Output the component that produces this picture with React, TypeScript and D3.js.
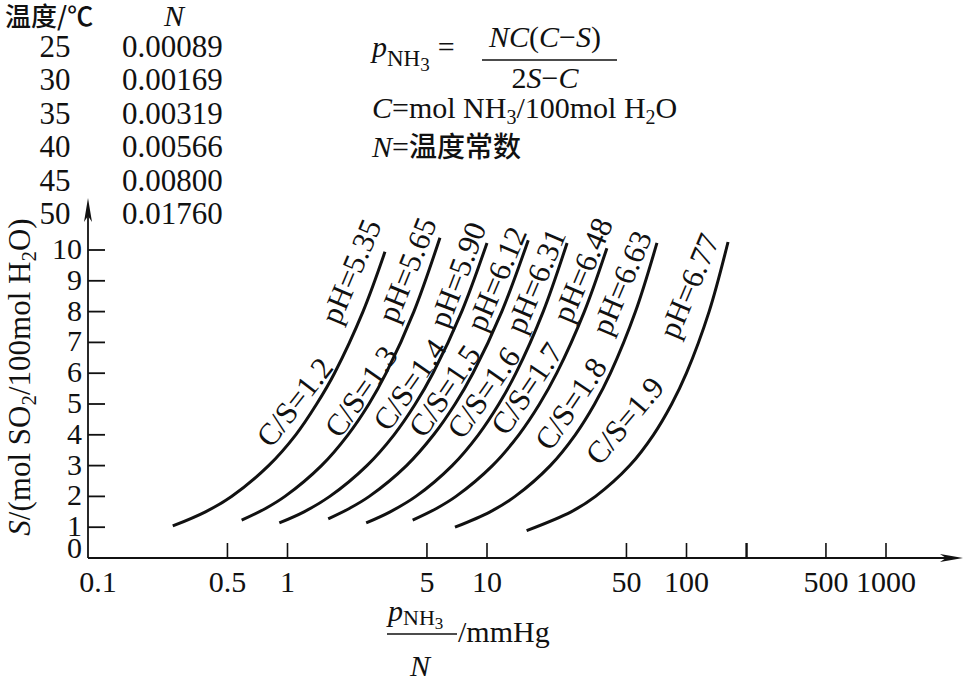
import React from 'react';
import * as d3 from 'd3';

// C/S ratio of each curve and the pH written on it
const csRatios = ['1.2', '1.3', '1.4', '1.5', '1.6', '1.7', '1.8', '1.9'];
const phValues = ['5.35', '5.65', '5.90', '6.12', '6.31', '6.48', '6.63', '6.77'];

// points: [pNH3/N (mmHg), S]
const curveCS12 = [[0.266, 1.04], [0.388, 1.5], [0.524, 2], [0.804, 3], [1.1, 4], [1.4, 5], [1.72, 6], [2.39, 8], [3.08, 9.94]];
const curveCS13 = [[0.589, 1.23], [0.772, 1.6], [0.971, 2], [1.48, 3], [2.01, 4], [2.56, 5], [3.12, 6], [4.3, 8], [5.81, 10.4]];
const curveCS14 = [[0.91, 1.14], [1.21, 1.5], [1.63, 2], [2.5, 3], [3.42, 4], [4.37, 5], [5.36, 6], [7.47, 8], [10, 10.23]];
const curveCS15 = [[1.6, 1.27], [2.03, 1.6], [2.57, 2], [3.95, 3], [5.4, 4], [6.92, 5], [8.5, 6], [11.86, 8], [16.1, 10.32]];
const curveCS16 = [[2.48, 1.14], [3.27, 1.5], [4.4, 2], [6.69, 3], [9.05, 4], [11.47, 5], [13.96, 6], [19.13, 8], [25.2, 10.23]];
const curveCS17 = [[4.24, 1.23], [5.55, 1.6], [6.99, 2], [10.65, 3], [14.44, 4], [18.34, 5], [22.36, 6], [30.76, 8], [39.9, 10.06]];
const curveCS18 = [[6.91, 1.0], [10.37, 1.5], [13.83, 2], [20.76, 3], [27.7, 4], [34.63, 5], [41.57, 6], [55.5, 8], [71.1, 10.23]];
const curveCS19 = [[15.8, 0.89], [26.4, 1.5], [35, 2], [51.9, 3], [68.3, 4], [84.3, 5], [99.9, 6], [129.8, 8], [161.5, 10.26]];
const curves = [curveCS12, curveCS13, curveCS14, curveCS15, curveCS16, curveCS17, curveCS18, curveCS19];

// temperature table
const tempLabels = ['25', '30', '35', '40', '45', '50'];
const nValues = ['0.00089', '0.00169', '0.00319', '0.00566', '0.00800', '0.01760'];

// axis ticks
const xTickValues = [0.5, 1, 5, 10, 50, 100, 200, 500, 1000];
const xTickLabels = ['0.5', '1', '5', '10', '50', '100', '', '500', '1000'];
const yTickValues = [1, 2, 3, 4, 5, 6, 7, 8, 9, 10];

// label placement (data coords + rotation), layout only
const csLabelSpots = [
    [1.09, 5.05, -52], [2.35, 5.4, -55], [4.11, 5.62, -55], [6.16, 5.42, -56],
    [9.66, 5.36, -55], [15.9, 5.49, -56], [26.4, 5.0, -56], [49.2, 4.45, -50],
];
const phLabelSpots = [
    [2.09, 9.3, -67], [4.0, 9.35, -68], [7.15, 9.19, -69], [11.2, 9.06, -67],
    [17.6, 8.99, -67], [30.3, 9.35, -67], [47.5, 8.93, -67], [103.5, 8.83, -67],
];

const W = 965;
const H = 686;
const serif = "Liberation Serif";
const cjk = "Noto Sans CJK SC";

const App = () => {
    const x = d3.scaleLog().domain([0.1, 1000]).range([88, 886]);
    const y = d3.scaleLinear().domain([0, 10]).range([558, 250]);
    const x0 = x(0.1);
    const y0 = y(0);

    const line = d3
        .line<number[]>()
        .x((d) => x(d[0]))
        .y((d) => y(d[1]))
        .curve(d3.curveCatmullRom.alpha(0.5));

    const fs = 30;

    return (
        <svg
            width={W}
            height={H}
            style={{ position: 'absolute', left: 0, top: 0, background: '#fff', fontFamily: serif }}
            fill="#111"
        >
            {/* temperature table */}
            <text x={5} y={26} fontSize={26} fontFamily={cjk} fontWeight={500}>
                温度/℃
            </text>
            <text x={174} y={26} fontSize={fs} fontStyle="italic" textAnchor="middle">
                N
            </text>
            {tempLabels.map((t, i) => (
                <g key={t}>
                    <text x={55} y={57 + i * 33.4} fontSize={31} textAnchor="middle">
                        {t}
                    </text>
                    <text x={122} y={57 + i * 33.4} fontSize={31}>
                        {nValues[i]}
                    </text>
                </g>
            ))}

            {/* formula block */}
            <text x={372} y={57} fontSize={fs}>
                <tspan fontStyle="italic">p</tspan>
                <tspan fontSize={23} dy={9}>NH</tspan>
                <tspan fontSize={19} dy={5}>3</tspan>
                <tspan dy={-14} dx={8}>=</tspan>
            </text>
            <text x={545} y={47} fontSize={fs} textAnchor="middle">
                <tspan fontStyle="italic">NC</tspan>(<tspan fontStyle="italic">C</tspan>−<tspan fontStyle="italic">S</tspan>)
            </text>
            <line x1={482} x2={617} y1={60} y2={60} stroke="#111" strokeWidth={1.6} />
            <text x={545} y={88} fontSize={fs} textAnchor="middle">
                2<tspan fontStyle="italic">S</tspan>−<tspan fontStyle="italic">C</tspan>
            </text>
            <text x={372} y={118} fontSize={fs}>
                <tspan fontStyle="italic">C</tspan>=mol NH<tspan fontSize={20} dy={6}>3</tspan><tspan dy={-6}>/100mol H</tspan><tspan fontSize={20} dy={6}>2</tspan><tspan dy={-6}>O</tspan>
            </text>
            <text x={372} y={157} fontSize={fs}>
                <tspan fontStyle="italic">N</tspan>=<tspan fontFamily={cjk} fontWeight={500} fontSize={28}>温度常数</tspan>
            </text>

            {/* axes */}
            <line x1={x0} x2={x0} y1={y0} y2={212} stroke="#111" strokeWidth={1.8} />
            <path d={`M${x0},198 L${x0 + 4},222 L${x0},216 L${x0 - 4},222 Z`} fill="#111" />
            <line x1={x0} x2={948} y1={y0} y2={y0} stroke="#111" strokeWidth={1.8} />
            <path d={`M963,${y0} L940,${y0 - 4} L946,${y0} L940,${y0 + 4} Z`} fill="#111" />

            {yTickValues.map((v) => (
                <g key={v}>
                    <line x1={x0} x2={x0 + 17} y1={y(v)} y2={y(v)} stroke="#111" strokeWidth={1.8} />
                    <text x={82} y={y(v) + 9} fontSize={fs} textAnchor="end">
                        {v}
                    </text>
                </g>
            ))}
            <text x={82} y={558} fontSize={fs} textAnchor="end">
                0
            </text>

            {xTickValues.map((v, i) => (
                <g key={v}>
                    <line x1={x(v)} x2={x(v)} y1={y0} y2={y0 - 15} stroke="#111" strokeWidth={v === 200 ? 2.4 : 1.6} />
                    <text x={x(v)} y={592} fontSize={fs} textAnchor="middle">
                        {xTickLabels[i]}
                    </text>
                </g>
            ))}
            <text x={x0 + 10} y={592} fontSize={fs} textAnchor="middle">
                0.1
            </text>

            {/* y axis title */}
            <text transform="translate(30,377) rotate(-90)" fontSize={31} textAnchor="middle">
                <tspan fontStyle="italic">S</tspan>/(mol SO<tspan fontSize={21} dy={6}>2</tspan><tspan dy={-6}>/100mol H</tspan><tspan fontSize={21} dy={6}>2</tspan><tspan dy={-6}>O)</tspan>
            </text>

            {/* x axis title */}
            <text x={388} y={621} fontSize={fs}>
                <tspan fontStyle="italic">p</tspan><tspan fontSize={22} dy={4}>NH</tspan><tspan fontSize={17} dy={4}>3</tspan>
            </text>
            <line x1={387} x2={457} y1={634} y2={634} stroke="#111" strokeWidth={1.6} />
            <text x={420} y={676} fontSize={fs} fontStyle="italic" textAnchor="middle">
                N
            </text>
            <text x={458} y={642} fontSize={fs}>
                /mmHg
            </text>

            {/* curves */}
            {curves.map((c, i) => (
                <path key={csRatios[i]} d={line(c) || ''} fill="none" stroke="#111" strokeWidth={3} />
            ))}

            {/* curve labels */}
            {csLabelSpots.map((s, i) => (
                <text
                    key={'cs' + i}
                    transform={`translate(${x(s[0])},${y(s[1])}) rotate(${s[2]})`}
                    fontSize={31}
                    textAnchor="middle"
                    dy={10}
                >
                    C/S={csRatios[i]}
                </text>
            ))}
            {phLabelSpots.map((s, i) => (
                <text
                    key={'ph' + i}
                    transform={`translate(${x(s[0])},${y(s[1])}) rotate(${s[2]})`}
                    fontSize={31}
                    textAnchor="middle"
                    dy={10}
                >
                    pH={phValues[i]}
                </text>
            ))}
        </svg>
    );
};

export default App;
